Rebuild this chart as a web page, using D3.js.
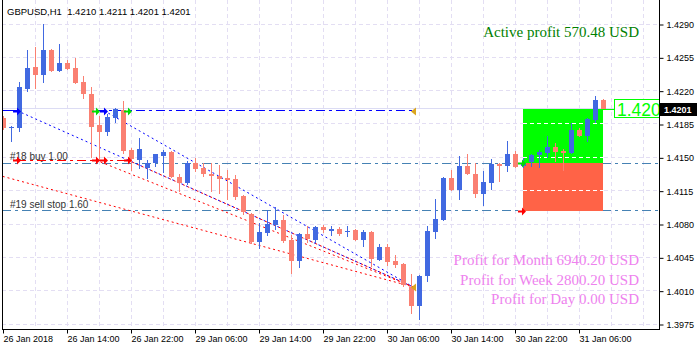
<!DOCTYPE html>
<html><head><meta charset="utf-8">
<script src="https://cdn.jsdelivr.net/npm/d3@7"></script>
<style>body{margin:0;background:#fff}svg{display:block}</style>
</head><body>
<svg id="chart" width="700" height="350"></svg>
<script>
// GBPUSD H1 candles, one entry per bar (bar 0 = 26 Jan 06:00)
const opens  = [1.4191,1.4181,1.4181,1.4222,1.4245,1.4236,1.4263,1.4241,1.4249,1.4244,1.4229,1.4217,1.4184,1.4177,1.4191,1.4200,1.4158,1.4147,1.4139,1.4144,1.4151,1.4156,1.4129,1.4123,1.4144,1.4139,1.4133,1.4130,1.4128,1.4127,1.4109,1.4091,1.4061,1.4071,1.4079,1.4084,1.4063,1.4041,1.4070,1.4063,1.4077,1.4073,1.4075,1.4072,1.4074,1.4063,1.4072,1.4042,1.4056,1.4041,1.4038,1.4014,1.3994,1.4025,1.4072,1.4084,1.4128,1.4116,1.4141,1.4133,1.4112,1.4123,1.4143,1.4141,1.4154,1.4141,1.4145,1.4152,1.4155,1.4161,1.4157,1.4155,1.4179,1.4172,1.4189,1.4210];
const highs  = [1.4193,1.4183,1.4229,1.4263,1.4266,1.4290,1.4264,1.4269,1.4252,1.4254,1.4235,1.4224,1.4193,1.4196,1.4202,1.4209,1.4160,1.4170,1.4147,1.4154,1.4158,1.4157,1.4133,1.4146,1.4149,1.4144,1.4144,1.4142,1.4137,1.4131,1.4110,1.4092,1.4081,1.4095,1.4098,1.4089,1.4068,1.4071,1.4078,1.4078,1.4079,1.4078,1.4077,1.4078,1.4075,1.4074,1.4073,1.4059,1.4059,1.4047,1.4039,1.4028,1.4026,1.4078,1.4106,1.4129,1.4137,1.4151,1.4154,1.4144,1.4136,1.4148,1.4144,1.4167,1.4157,1.4149,1.4153,1.4158,1.4172,1.4165,1.4159,1.4186,1.4181,1.4191,1.4214,1.4211];
const lows   = [1.4179,1.4166,1.4177,1.4219,1.4222,1.4228,1.4240,1.4240,1.4242,1.4227,1.4211,1.4149,1.4147,1.4172,1.4186,1.4154,1.4136,1.4138,1.4127,1.4140,1.4134,1.4128,1.4114,1.4121,1.4135,1.4129,1.4114,1.4111,1.4105,1.4105,1.4089,1.4059,1.4054,1.4067,1.4074,1.4060,1.4027,1.4034,1.4060,1.4060,1.4071,1.4067,1.4067,1.4066,1.4062,1.4056,1.4035,1.4041,1.4036,1.4034,1.4014,1.3986,1.3979,1.4019,1.4064,1.4083,1.4115,1.4105,1.4131,1.4107,1.4099,1.4116,1.4124,1.4135,1.4139,1.4139,1.4140,1.4139,1.4149,1.4145,1.4136,1.4154,1.4171,1.4166,1.4186,1.4201];
const closes = [1.4181,1.4182,1.4224,1.4244,1.4236,1.4263,1.4241,1.4249,1.4243,1.4228,1.4217,1.4182,1.4177,1.4192,1.4201,1.4157,1.4148,1.4159,1.4144,1.4153,1.4156,1.4129,1.4123,1.4144,1.4138,1.4133,1.4130,1.4127,1.4126,1.4108,1.4093,1.4061,1.4072,1.4080,1.4084,1.4062,1.4041,1.4070,1.4064,1.4077,1.4074,1.4075,1.4070,1.4073,1.4063,1.4072,1.4043,1.4056,1.4040,1.4037,1.4016,1.3994,1.4025,1.4073,1.4085,1.4128,1.4116,1.4141,1.4133,1.4112,1.4124,1.4143,1.4141,1.4154,1.4140,1.4144,1.4152,1.4156,1.4161,1.4156,1.4155,1.4179,1.4172,1.4190,1.4210,1.4201];

const priceTicks = [1.4290,1.4255,1.4220,1.4185,1.4150,1.4115,1.4080,1.4045,1.4010,1.3975];
const timeTickBars = [0,8,16,24,32,40,48,56,64,72];
const timeTickLabels = ["26 Jan 2018","26 Jan 14:00","26 Jan 22:00","29 Jan 06:00","29 Jan 14:00","29 Jan 22:00","30 Jan 06:00","30 Jan 14:00","30 Jan 22:00","31 Jan 06:00"];

const titleText = "GBPUSD,H1  1.4210 1.4211 1.4201 1.4201";
const bidPrice = 1.4201;

// pending / open orders
const orderLevels = [
  {label: "#18 buy 1.00", price: 1.4144},
  {label: "#19 sell stop 1.60", price: 1.4094}
];

// take-profit / stop-loss zone of the open trade
const zoneBars = [65, 75];
const zoneTop = 1.4201, zoneMid = 1.4144, zoneBottom = 1.4094;

// history: horizontal dash-dot trade levels [fromBar, toBar, price]
const buyLevel  = [1.69, 51.19, 1.4199];
const sellLevel = [1.69, 15.56, 1.4147];

// dotted trade-connection lines [bar1, price1, bar2, price2]
const buyTradeLines  = [[1.69,1.4199,51.19,1.4014],[12.56,1.4199,51.19,1.4014]];
const sellTradeLines = [[-0.1,1.4130,51.19,1.4014],[11.56,1.4147,51.19,1.4014],[15.56,1.4147,51.19,1.4014]];

// arrow markers [bar, price]
const blueArrows  = [[1.69,1.4199],[12.56,1.4199]];
const greenArrows = [[11.56,1.4199],[15.56,1.4199],[64.81,1.4144]];
const redArrows   = [[1.69,1.4147],[11.56,1.4147],[12.56,1.4147],[15.56,1.4147],[64.81,1.4094]];
const goldMarks   = [[51.19,1.4199],[51.19,1.4014]];

const activeProfit = "Active profit 570.48 USD";
const periodProfits = ["Profit for Month 6940.20 USD","Profit for Week 2800.20 USD","Profit for Day 0.00 USD"];

// ---------------------------------------------------------------
const W = 700, H = 350;
const pL = 2, pR = 659, pB = 330, pT = 0;
const svg = d3.select("#chart");
svg.append("rect").attr("width", W).attr("height", H).attr("fill", "#fff");

const x = d3.scaleLinear().domain([0, 82]).range([3.5, 3.5 + 8 * 82]);
const y = d3.scaleLinear().domain([1.3975, 1.4290]).range([324, 24]);
const px = v => Math.floor(v) + 0.5;

svg.append("defs").append("clipPath").attr("id", "plot")
  .append("rect").attr("x", pL + 1).attr("y", pT).attr("width", pR - pL - 1).attr("height", pB - pT);

const plot = svg.append("g").attr("clip-path", "url(#plot)");

// grid
const gridColor = "#e3def3";
const vGrid = d3.range(4, 82, 4);
plot.append("g").selectAll("line").data(vGrid).join("line")
  .attr("x1", d => px(x(d))).attr("x2", d => px(x(d)))
  .attr("y1", pT).attr("y2", pB)
  .attr("stroke", gridColor).attr("stroke-dasharray", "4,3");
plot.append("g").selectAll("line").data(priceTicks).join("line")
  .attr("x1", pL).attr("x2", pR)
  .attr("y1", d => px(y(d))).attr("y2", d => px(y(d)))
  .attr("stroke", gridColor).attr("stroke-dasharray", "4,3");

// bid line
plot.append("line").attr("x1", pL).attr("x2", pR)
  .attr("y1", px(y(bidPrice))).attr("y2", px(y(bidPrice)))
  .attr("stroke", "#dcdcf4");

// order levels
const orders = plot.append("g");
orders.selectAll("line").data(orderLevels).join("line")
  .attr("x1", pL).attr("x2", pR)
  .attr("y1", d => px(y(d.price))).attr("y2", d => px(y(d.price)))
  .attr("stroke", "#4682b4").attr("stroke-dasharray", "9,4,3,4");
orders.selectAll("text").data(orderLevels).join("text")
  .attr("x", 10).attr("y", d => Math.round(y(d.price)) - 3)
  .attr("font-family", "Liberation Sans, Arial, sans-serif").attr("font-size", 10)
  .attr("fill", "#333").text(d => d.label);

// profit / loss zone
const zx0 = x(zoneBars[0]) - 0.5, zx1 = x(zoneBars[1]) - 0.5;
plot.append("rect").attr("x", zx0).attr("width", zx1 - zx0)
  .attr("y", Math.round(y(zoneTop))).attr("height", Math.round(y(zoneMid)) - Math.round(y(zoneTop)))
  .attr("fill", "#00ff00");
plot.append("rect").attr("x", zx0).attr("width", zx1 - zx0)
  .attr("y", Math.round(y(zoneMid))).attr("height", Math.round(y(zoneBottom)) - Math.round(y(zoneMid)))
  .attr("fill", "#ff6347");
plot.append("g").selectAll("line")
  .data(priceTicks.filter(p => p < zoneTop && p > zoneBottom)).join("line")
  .attr("x1", zx0).attr("x2", zx1)
  .attr("y1", d => px(y(d))).attr("y2", d => px(y(d)))
  .attr("stroke", "#fff").attr("stroke-dasharray", "4,3");

// trade history lines
const hist = plot.append("g");
hist.append("line").attr("x1", pL).attr("x2", x(buyLevel[0]))
  .attr("y1", px(y(buyLevel[2]))).attr("y2", px(y(buyLevel[2])))
  .attr("stroke", "#0000ff");
hist.append("line").attr("x1", x(11.56)).attr("x2", x(buyLevel[1]))
  .attr("y1", px(y(buyLevel[2]))).attr("y2", px(y(buyLevel[2])))
  .attr("stroke", "#0000ff").attr("stroke-dasharray", "9,4,3,4");
hist.append("line").attr("x1", x(sellLevel[0])).attr("x2", x(sellLevel[1]))
  .attr("y1", px(y(sellLevel[2]))).attr("y2", px(y(sellLevel[2])))
  .attr("stroke", "#ff0000").attr("stroke-dasharray", "9,4,3,4");
hist.selectAll(".bt").data(buyTradeLines).join("line").attr("class", "bt")
  .attr("x1", d => x(d[0])).attr("y1", d => y(d[1])).attr("x2", d => x(d[2])).attr("y2", d => y(d[3]))
  .attr("stroke", "#0000ff").attr("stroke-dasharray", "2,3");
hist.selectAll(".st").data(sellTradeLines).join("line").attr("class", "st")
  .attr("x1", d => x(d[0])).attr("y1", d => y(d[1])).attr("x2", d => x(d[2])).attr("y2", d => y(d[3]))
  .attr("stroke", "#ff0000").attr("stroke-dasharray", "2,3");

// candles
const bars = d3.range(opens.length).map(i => ({i, o: opens[i], h: highs[i], l: lows[i], c: closes[i]}));
const cg = plot.append("g").attr("shape-rendering", "crispEdges");
const col = d => d.c >= d.o ? "#4169e1" : "#fa8072";
cg.selectAll("line").data(bars).join("line")
  .attr("x1", d => px(x(d.i))).attr("x2", d => px(x(d.i)))
  .attr("y1", d => y(d.h)).attr("y2", d => y(d.l))
  .attr("stroke", col);
cg.selectAll("rect").data(bars).join("rect")
  .attr("x", d => Math.floor(x(d.i)) - 2).attr("width", 5)
  .attr("y", d => y(Math.max(d.o, d.c)))
  .attr("height", d => Math.max(1, y(Math.min(d.o, d.c)) - y(Math.max(d.o, d.c))))
  .attr("fill", col);

// markers
const arrowPath = (cx, cy) => `M${cx-4},${cy-1}h4v-3l4,4l-4,4v-3h-4z`;
const marks = plot.append("g");
const drawArrows = (data, color) => marks.append("g").selectAll("path").data(data).join("path")
  .attr("d", d => arrowPath(x(d[0]), Math.round(y(d[1])) + 0.5))
  .attr("fill", color);
drawArrows(blueArrows, "#0000ff");
drawArrows(greenArrows, "#00dd00");
drawArrows(redArrows, "#ff0000");
marks.append("g").selectAll("path").data(goldMarks).join("path")
  .attr("d", d => { const cx = x(d[0]), cy = Math.round(y(d[1])) + 0.5; return `M${cx+3},${cy-4}L${cx-2},${cy}L${cx+3},${cy+4}Z`; })
  .attr("fill", "#daa520");

// current price tag inside the chart
const bidY = Math.round(y(bidPrice));
plot.append("line").attr("x1", zx1).attr("x2", 614).attr("y1", bidY + 0.5).attr("y2", bidY + 0.5).attr("stroke", "#00ff00");
plot.append("rect").attr("x", 614.5).attr("y", bidY - 9.5).attr("width", 60).attr("height", 18)
  .attr("fill", "#fff").attr("stroke", "#00ff00");
plot.append("text").attr("x", 617).attr("y", bidY + 7)
  .attr("font-family", "Liberation Sans, Arial, sans-serif").attr("font-size", 17.5)
  .attr("fill", "#00ff00").text(d3.format(".3f")(bidPrice));

// frame
svg.append("path").attr("d", `M${pL+0.5},${pT}V${pB-0.5}H${pR+0.5}V${pT}`)
  .attr("fill", "none").attr("stroke", "#000").attr("shape-rendering", "crispEdges");

// price axis
const yAxis = d3.axisRight(y).tickValues(priceTicks).tickFormat(d3.format(".4f")).tickSize(4).tickPadding(3);
const ya = svg.append("g").attr("transform", `translate(${pR + 0.5},0.5)`).call(yAxis);
ya.select(".domain").remove();
ya.selectAll("text").attr("font-family", "Liberation Sans, Arial, sans-serif").attr("font-size", 9).attr("fill", "#000");
ya.selectAll("line").attr("stroke", "#000");

// bid tag on the axis
svg.append("rect").attr("x", 660).attr("y", bidY - 6).attr("width", 37).attr("height", 13).attr("fill", "#000");
svg.append("text").attr("x", 664).attr("y", bidY + 4)
  .attr("font-family", "Liberation Sans, Arial, sans-serif").attr("font-size", 9).attr("font-weight", "bold")
  .attr("fill", "#fff").text(d3.format(".4f")(bidPrice));

// time axis
const xAxis = d3.axisBottom(x).tickValues(timeTickBars).tickFormat((d, i) => timeTickLabels[i]).tickSize(4).tickPadding(2);
const xa = svg.append("g").attr("transform", `translate(-0.5,${pB - 0.5})`).call(xAxis);
xa.select(".domain").remove();
xa.selectAll("line").attr("stroke", "#000");
xa.selectAll("text").attr("text-anchor", "start").attr("dx", 0)
  .attr("font-family", "Liberation Sans, Arial, sans-serif").attr("font-size", 9).attr("fill", "#000");

// title
svg.append("text").attr("x", 7).attr("y", 15)
  .attr("font-family", "Liberation Sans, Arial, sans-serif").attr("font-size", 9.5)
  .attr("fill", "#000").attr("xml:space", "preserve").style("white-space", "pre").text(titleText);

// profit captions
svg.append("text").attr("x", 639).attr("y", 37).attr("text-anchor", "end")
  .attr("font-family", "Liberation Serif, Times New Roman, serif").attr("font-size", 15)
  .attr("fill", "#008000").text(activeProfit);
svg.append("g").selectAll("text").data(periodProfits).join("text")
  .attr("x", 639).attr("y", (d, i) => 265 + i * 19.7).attr("text-anchor", "end")
  .attr("font-family", "Liberation Serif, Times New Roman, serif").attr("font-size", 15)
  .attr("fill", "#ee82ee").text(d => d);
</script>
</body></html>
